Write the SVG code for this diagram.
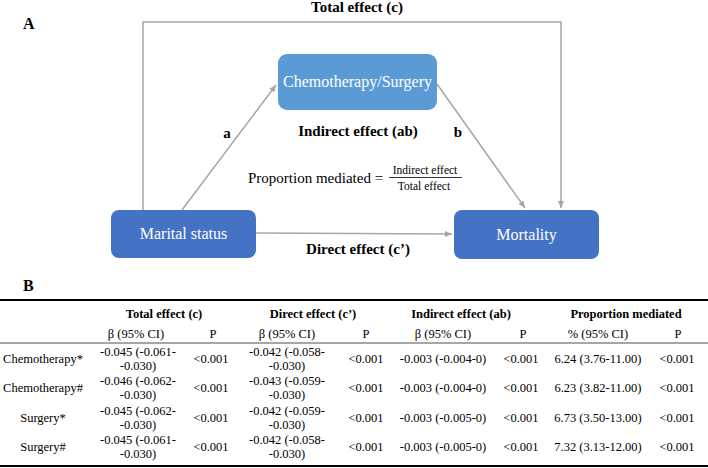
<svg xmlns="http://www.w3.org/2000/svg" width="708" height="468" viewBox="0 0 708 468" font-family="'Liberation Serif', 'DejaVu Serif', serif">
<defs>
<marker id="ah" markerWidth="8" markerHeight="8" refX="7" refY="4" orient="auto" markerUnits="userSpaceOnUse">
<path d="M0,1 L7,4 L0,7 z" fill="#A6A6A6"/>
</marker>
<style>
text{font-family:'Liberation Serif','DejaVu Serif',serif}
.t{fill:#000}
.b{font-weight:bold}
.bt{fill:#fff;font-size:16px;text-anchor:middle;dominant-baseline:middle}
.con{stroke:#A6A6A6;stroke-width:1.5;fill:none}
.c{text-anchor:middle}
.tb{font-size:12.5px;fill:#000;text-anchor:middle;dominant-baseline:middle}
.hb{font-weight:bold;font-size:12.5px}
</style>
</defs>
<rect width="708" height="468" fill="#fff"/>
<text class="t b" x="23" y="29" font-size="16">A</text>
<text class="t b c" x="357" y="9" font-size="15" dominant-baseline="middle">Total effect (c)</text>

<g id="connectors">
<polyline class="con" points="143,210 143,22 561,22 561,208" marker-end="url(#ah)"/>
<line class="con" x1="182" y1="210" x2="276" y2="85" marker-end="url(#ah)"/>
<line class="con" x1="437" y1="84" x2="525" y2="208" marker-end="url(#ah)"/>
<line class="con" x1="256" y1="233" x2="452" y2="234" marker-end="url(#ah)"/>
</g>

<g id="chemo">
<rect x="278" y="54" width="159" height="56" rx="9" fill="#5B9BD5"/>
<text class="bt" x="357.5" y="83">Chemotherapy/Surgery</text>
</g>
<g id="marital">
<rect x="111" y="210" width="145" height="48" rx="8" fill="#4472C4"/>
<text class="bt" x="183.5" y="235">Marital status</text>
</g>
<g id="mortality">
<rect x="454" y="210" width="145" height="49" rx="8" fill="#4472C4"/>
<text class="bt" x="526.5" y="236">Mortality</text>
</g>

<text class="t b c" x="227" y="135" font-size="15" dominant-baseline="middle">a</text>
<text class="t b c" x="458" y="134" font-size="15" dominant-baseline="middle">b</text>
<text class="t b c" x="358" y="133" font-size="15" dominant-baseline="middle">Indirect effect (ab)</text>
<text class="t" x="248" y="183" font-size="15">Proportion mediated =</text>
<text class="t c" x="425" y="174" font-size="11.5">Indirect effect</text>
<line x1="389" y1="177.5" x2="462" y2="177.5" stroke="#000" stroke-width="0.8"/>
<text class="t c" x="424" y="190" font-size="11.5">Total effect</text>
<text class="t b c" x="358" y="251" font-size="15" dominant-baseline="middle">Direct effect (c’)</text>

<text class="t b" x="23" y="291" font-size="16">B</text>
<line x1="0" y1="300" x2="708" y2="300" stroke="#000" stroke-width="2"/>
<text class="tb hb" x="164" y="315">Total effect (c)</text>
<text class="tb hb" x="313" y="315">Direct effect (c’)</text>
<text class="tb hb" x="461" y="315">Indirect effect (ab)</text>
<text class="tb hb" x="626" y="315">Proportion mediated</text>
<text class="tb" x="136" y="335">β (95% CI)</text>
<text class="tb" x="213" y="335">P</text>
<text class="tb" x="287" y="335">β (95% CI)</text>
<text class="tb" x="366" y="335">P</text>
<text class="tb" x="443" y="335">β (95% CI)</text>
<text class="tb" x="523" y="335">P</text>
<text class="tb" x="598" y="335">% (95% CI)</text>
<text class="tb" x="678" y="335">P</text>
<line x1="0" y1="343" x2="708" y2="343" stroke="#000" stroke-width="0.7"/>

<text class="tb" x="43" y="360">Chemotherapy*</text>
<text class="tb" x="138" y="353.5">-0.045 (-0.061-</text>
<text class="tb" x="138" y="367">-0.030)</text>
<text class="tb" x="211" y="360">&lt;0.001</text>
<text class="tb" x="287" y="353.5">-0.042 (-0.058-</text>
<text class="tb" x="287" y="367">-0.030)</text>
<text class="tb" x="366" y="360">&lt;0.001</text>
<text class="tb" x="443" y="360">-0.003 (-0.004-0)</text>
<text class="tb" x="521" y="360">&lt;0.001</text>
<text class="tb" x="598" y="360">6.24 (3.76-11.00)</text>
<text class="tb" x="677" y="360">&lt;0.001</text>

<text class="tb" x="43" y="389">Chemotherapy#</text>
<text class="tb" x="138" y="382.5">-0.046 (-0.062-</text>
<text class="tb" x="138" y="396">-0.030)</text>
<text class="tb" x="211" y="389">&lt;0.001</text>
<text class="tb" x="287" y="382.5">-0.043 (-0.059-</text>
<text class="tb" x="287" y="396">-0.030)</text>
<text class="tb" x="366" y="389">&lt;0.001</text>
<text class="tb" x="443" y="389">-0.003 (-0.004-0)</text>
<text class="tb" x="521" y="389">&lt;0.001</text>
<text class="tb" x="598" y="389">6.23 (3.82-11.00)</text>
<text class="tb" x="677" y="389">&lt;0.001</text>

<text class="tb" x="43" y="419">Surgery*</text>
<text class="tb" x="138" y="412.5">-0.045 (-0.062-</text>
<text class="tb" x="138" y="426">-0.030)</text>
<text class="tb" x="211" y="419">&lt;0.001</text>
<text class="tb" x="287" y="412.5">-0.042 (-0.059-</text>
<text class="tb" x="287" y="426">-0.030)</text>
<text class="tb" x="366" y="419">&lt;0.001</text>
<text class="tb" x="443" y="419">-0.003 (-0.005-0)</text>
<text class="tb" x="521" y="419">&lt;0.001</text>
<text class="tb" x="598" y="419">6.73 (3.50-13.00)</text>
<text class="tb" x="677" y="419">&lt;0.001</text>

<text class="tb" x="43" y="448">Surgery#</text>
<text class="tb" x="138" y="441.5">-0.045 (-0.061-</text>
<text class="tb" x="138" y="455">-0.030)</text>
<text class="tb" x="211" y="448">&lt;0.001</text>
<text class="tb" x="287" y="441.5">-0.042 (-0.058-</text>
<text class="tb" x="287" y="455">-0.030)</text>
<text class="tb" x="366" y="448">&lt;0.001</text>
<text class="tb" x="443" y="448">-0.003 (-0.005-0)</text>
<text class="tb" x="521" y="448">&lt;0.001</text>
<text class="tb" x="598" y="448">7.32 (3.13-12.00)</text>
<text class="tb" x="677" y="448">&lt;0.001</text>
<line x1="0" y1="466" x2="708" y2="466" stroke="#000" stroke-width="2"/>
</svg>
